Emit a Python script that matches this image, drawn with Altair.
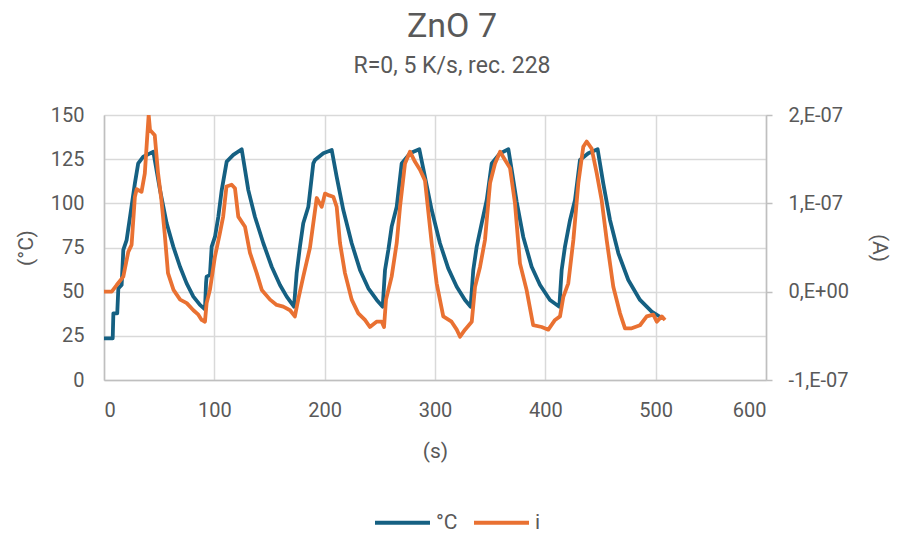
import altair as alt
import pandas as pd

# Temperature (°C) vs time (s)
temp_t = [0, 7.9, 8.5, 12, 13, 16, 17.5, 20.5, 23.6, 28, 31, 35.6, 41.7, 44.7,
          50.8, 56.8, 62.8, 68.9, 74.9, 81, 87, 91.5,
          92.5, 93, 96, 97.6, 100.6, 103.6, 106.7, 111.2, 117.2, 124.8,
          130.8, 136.8, 144.4, 152, 159.5, 165.6, 172.2,
          174.6, 177.6, 180.6, 185.2, 189.7, 191.2, 198.8, 206.4,
          210.9, 216.9, 224.5, 232, 239.6, 247.2, 252.6,
          254.7, 257.7, 260.7, 265.3, 269.8, 277.3, 285.8,
          290.9, 297, 304.5, 312, 319.7, 327.2, 332.3,
          334.7, 337.8, 342.3, 346.9, 351.4, 359, 366.5,
          370, 374, 380, 387.6, 395.2, 404.2, 412.7,
          414.8, 417.8, 422.4, 426.9, 431.4, 439, 447.4,
          452.5, 458.6, 466.2, 475.2, 485.8, 496.4, 503.9]
temp_v = [23.6, 23.6, 37.7, 37.7, 51.9, 53.8, 73.6, 79.2, 92.4, 111.3, 122.6, 126.4, 128.3, 129.2,
          107.5, 88.7, 75.5, 64.1, 54.7, 47.2, 42.5, 40.0,
          55.0, 58.5, 59.4, 75.5, 81.1, 92.4, 107.5, 123.6, 127.4, 130.6,
          107.5, 92.4, 77.4, 64.1, 53.8, 47.2, 41.5,
          60.4, 75.5, 88.7, 98.1, 122.6, 124.5, 128.3, 130.2,
          115.0, 96.2, 77.4, 62.3, 51.9, 45.3, 41.5,
          62.3, 73.6, 86.8, 98.1, 122.6, 128.3, 130.6,
          115.0, 96.2, 77.4, 63.2, 52.8, 45.3, 41.5,
          62.3, 75.5, 88.7, 101.9, 122.6, 128.3, 130.6,
          117.0, 101.0, 81.0, 64.1, 53.8, 45.3, 41.5,
          62.3, 75.5, 90.6, 101.9, 124.5, 128.3, 130.6,
          111.3, 90.6, 71.7, 56.6, 45.3, 38.7, 35.8]

# Current i (in units of 1e-7 A) vs time (s)
cur_t = [0, 7, 11.5, 17.5, 22, 25, 28, 29.6, 34, 37, 39, 40.5, 41.7, 46, 49, 52, 55, 58,
         63, 69, 75, 81, 85.5, 88.5, 91.5, 93, 96, 100.6, 105, 108, 111, 115.7, 118.7,
         121.7, 127.8, 132.3, 138.4, 143, 150.5, 156.5, 162.5, 168.6, 173, 176, 180.6,
         186.7, 192.8, 197.3, 200.3, 204, 207.8, 210.9, 213.9, 218.4, 224.5, 230.5,
         236.5, 241, 247, 251.7, 253.8, 255.6, 260.7, 265.3, 268.3, 272.8, 277.3,
         281.9, 286.4, 290.9, 297, 301.5, 307.5, 315, 319.7, 322.7, 327.2, 333.3,
         336.3, 340.8, 345.3, 349.9, 354.4, 359, 363.5, 368, 372.5, 377, 383, 389,
         396.7, 402.7, 408.8, 413.3, 416.3, 420.8, 425.4, 429.9, 434.4, 437.5, 442,
         446.6, 451, 455.6, 461.6, 467.7, 472.2, 478.3, 485.8, 491.9, 497.9, 501,
         505.5, 508.5]
cur_v = [0.0, 0.0, 0.075, 0.17, 0.45, 0.53, 1.075, 1.16, 1.13, 1.34, 1.72, 2.0, 1.83, 1.77,
         1.34, 1.04, 0.66, 0.21, 0.02, -0.09, -0.13, -0.21, -0.26, -0.32, -0.34, -0.13,
         0.02, 0.40, 0.66, 0.85, 1.19, 1.21, 1.17, 0.85, 0.735, 0.44, 0.21, 0.02, -0.09,
         -0.15, -0.17, -0.21, -0.28, -0.09, 0.17, 0.5, 1.06, 0.96, 1.11, 1.09, 1.075,
         0.96, 0.55, 0.21, -0.09, -0.245, -0.32, -0.40, -0.34, -0.34, -0.40, -0.09,
         0.17, 0.55, 0.96, 1.45, 1.585, 1.47, 1.38, 1.26, 0.55, 0.095, -0.28, -0.34,
         -0.43, -0.51, -0.43, -0.34, 0.056, 0.28, 0.585, 1.23, 1.45, 1.585, 1.49, 1.40,
         1.0, 0.32, 0.02, -0.38, -0.40, -0.43, -0.32, -0.28, -0.06, 0.095, 0.585, 1.23,
         1.64, 1.70, 1.62, 1.34, 1.04, 0.585, 0.056, -0.245, -0.415, -0.415, -0.38,
         -0.28, -0.26, -0.34, -0.28, -0.32]

series_names = ["°C", "i"]
series_colors = ["#156082", "#E97132"]

temp_df = pd.DataFrame({"t": temp_t, "v": temp_v, "series": series_names[0]})
cur_df = pd.DataFrame({"t": cur_t, "v": cur_v, "series": series_names[1]})

FONT = "Roboto"
GREY = "#595959"
GRID = "#d9d9d9"

color = alt.Color(
    "series:N",
    scale=alt.Scale(domain=series_names, range=series_colors),
    legend=alt.Legend(
        title=None, orient="none", direction="horizontal",
        legendX=269, legendY=378,
        symbolType="stroke", symbolSize=3025, symbolStrokeWidth=4,
        labelFontSize=21, labelColor=GREY, labelFont=FONT,
        columnPadding=8, labelOffset=4,
    ),
)

x_enc = alt.X(
    "t:Q",
    scale=alt.Scale(domain=[0, 600], nice=False),
    axis=alt.Axis(
        title="(s)", values=[0, 100, 200, 300, 400, 500, 600],
        labelFontSize=20, labelColor=GREY, labelFont=FONT, labelPadding=20,
        titleFontSize=21, titleColor=GREY, titleFont=FONT, titleFontWeight="normal",
        titlePadding=20, ticks=False, grid=True, gridColor=GRID, gridWidth=1.5,
        domainColor="#bfbfbf", domainWidth=1.5,
    ),
)

temp_layer = alt.Chart(temp_df).mark_line(strokeWidth=3.8, strokeJoin="round", clip=True).encode(
    x=x_enc,
    y=alt.Y(
        "v:Q",
        scale=alt.Scale(domain=[0, 150], nice=False),
        axis=alt.Axis(
            title="(°C)", orient="left", values=[0, 25, 50, 75, 100, 125, 150],
            labelFontSize=20, labelColor=GREY, labelFont=FONT, labelPadding=20,
            titleFontSize=21, titleColor=GREY, titleFont=FONT, titleFontWeight="normal",
            titlePadding=14, ticks=False, grid=True, gridColor=GRID, gridWidth=1.5,
            domainColor="#bfbfbf", domainWidth=1.5,
        ),
    ),
    color=color,
    order="t:Q",
)

cur_layer = alt.Chart(cur_df).mark_line(strokeWidth=3.8, strokeJoin="round", clip=True).encode(
    x=alt.X("t:Q", scale=alt.Scale(domain=[0, 600], nice=False)),
    y=alt.Y(
        "v:Q",
        scale=alt.Scale(domain=[-1, 2], nice=False),
        axis=alt.Axis(
            title="(A)", orient="right", values=[-1, 0, 1, 2],
            labelExpr="datum.value == 0 ? '0,E+00' : (datum.value < 0 ? '-' : '') + abs(datum.value) + ',E-07'",
            labelFontSize=20, labelColor=GREY, labelFont=FONT, labelPadding=16,
            titleFontSize=21, titleColor=GREY, titleFont=FONT, titleFontWeight="normal",
            titlePadding=20, ticks=True, tickSize=6, tickColor="#bfbfbf", tickWidth=1.5,
            grid=False, domainColor="#bfbfbf", domainWidth=1.5,
        ),
    ),
    color=color,
    order="t:Q",
)

chart = (
    alt.layer(temp_layer, cur_layer)
    .resolve_scale(y="independent")
    .properties(
        width=662, height=265,
        padding={"left": 104, "top": 115, "right": 132, "bottom": 153},
        autosize=alt.AutoSizeParams(type="none"),
        title=alt.TitleParams(
            text="ZnO 7", subtitle="R=0, 5 K/s, rec. 228",
            fontSize=34, subtitleFontSize=23, color=GREY, subtitleColor=GREY,
            font=FONT, subtitleFont=FONT, fontWeight="normal",
            anchor="middle", frame="group", dx=17, offset=27, subtitlePadding=11,
        ),
    )
    .configure_view(stroke=None)
    .configure(background="white")
)

chart.save("out.html", embed_options={"renderer": "svg", "actions": False})
